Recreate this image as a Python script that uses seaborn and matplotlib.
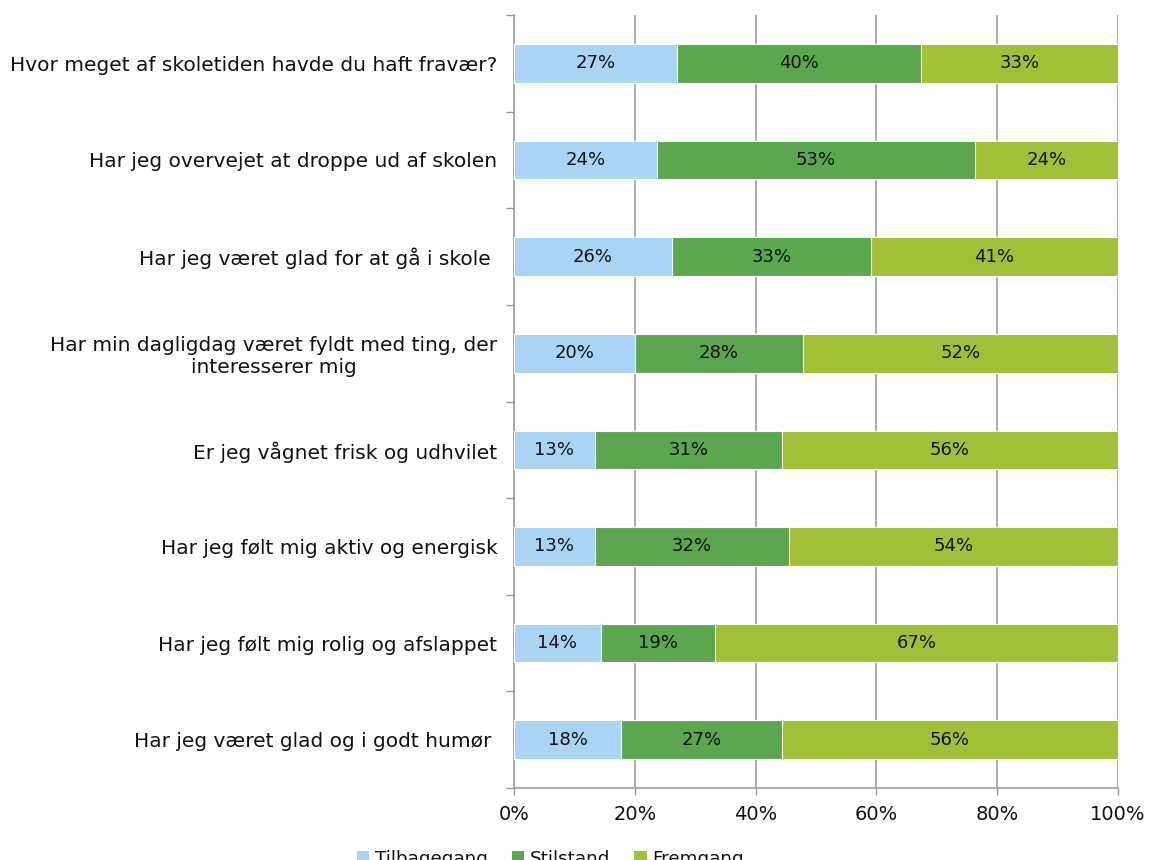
import matplotlib
matplotlib.use("Agg")
import matplotlib.pyplot as plt
import seaborn as sns
import numpy as np
import pandas as pd
from matplotlib.patches import Patch

questions = [
    "Hvor meget af skoletiden havde du haft fravær?",
    "Har jeg overvejet at droppe ud af skolen",
    "Har jeg været glad for at gå i skole ",
    "Har min dagligdag været fyldt med ting, der\ninteresserer mig",
    "Er jeg vågnet frisk og udhvilet",
    "Har jeg følt mig aktiv og energisk",
    "Har jeg følt mig rolig og afslappet",
    "Har jeg været glad og i godt humør ",
]
tilbagegang = [27.0, 23.7, 26.2, 20.0, 13.4, 13.4, 14.4, 17.8]
stilstand = [40.4, 52.6, 32.9, 27.8, 31.0, 32.2, 18.9, 26.6]
fremgang = [32.6, 23.7, 40.9, 52.2, 55.6, 54.4, 66.7, 55.6]

series_names = ["Tilbagegang", "Stilstand", "Fremgang"]
colors = ["#A9D4F4", "#5BA64F", "#A2BF38"]

sns.set_theme(style="white")
plt.rcParams["font.family"] = ["DejaVu Sans"]
plt.rcParams["text.color"] = "#111111"
plt.rcParams["xtick.color"] = "#111111"
plt.rcParams["ytick.color"] = "#111111"

df = pd.DataFrame({"q": questions, "Tilbagegang": tilbagegang,
                   "Stilstand": stilstand, "Fremgang": fremgang})
df["c1"] = df["Tilbagegang"]
df["c2"] = df["c1"] + df["Stilstand"]
df["c3"] = df["c2"] + df["Fremgang"]

fig = plt.figure(figsize=(11.49, 8.60), dpi=100)
ax = fig.add_axes([0.4473, 0.0837, 0.5257, 0.8988])

# stacked bars drawn as overlapping cumulative totals, widest first
for col, color in zip(["c3", "c2", "c1"], colors[::-1]):
    sns.barplot(data=df, x=col, y="q", orient="h", color=color, width=0.4,
                edgecolor="white", linewidth=0.8, saturation=1, ax=ax, zorder=3)

# segment value labels
for i, row in df.iterrows():
    starts = [0, row["c1"], row["c2"]]
    vals = [row["Tilbagegang"], row["Stilstand"], row["Fremgang"]]
    for s, v in zip(starts, vals):
        ax.text(s + v / 2, i, f"{v:.0f}%", ha="center", va="center",
                fontsize=13, color="#111111", zorder=5)

ax.set_xlim(0, 100)
ax.set_ylim(len(questions) - 0.5, -0.5)
ax.set_xticks(np.arange(0, 101, 20))
ax.set_xticklabels([f"{t}%" for t in range(0, 101, 20)], fontsize=14)
ax.set_xlabel("")
ax.set_ylabel("")
ax.tick_params(axis="x", which="major", length=5, width=1, color="#999999",
               direction="out", pad=7, bottom=True)
ax.tick_params(axis="y", which="major", length=0, pad=12, labelsize=14.5)
for lbl in ax.get_yticklabels():
    lbl.set_multialignment("center")
ax.set_yticks(np.arange(-0.5, len(questions), 1.0), minor=True)
ax.tick_params(axis="y", which="minor", length=6, width=1, color="#999999",
               direction="out", left=True)

ax.xaxis.grid(True, color="#A0A0A0", linewidth=1.2, zorder=0)
ax.yaxis.grid(False)
ax.set_axisbelow(True)
for side in ["top", "right"]:
    ax.spines[side].set_visible(False)
for side in ["left", "bottom"]:
    ax.spines[side].set_color("#A0A0A0")
    ax.spines[side].set_linewidth(1.2)

handles = [Patch(facecolor=c, edgecolor="none") for c in colors]
fig.legend(handles, series_names, loc="upper center",
           bbox_to_anchor=(0.479, 1 - 833 / 860), ncol=3, frameon=False,
           fontsize=13.2, handlelength=0.7, handleheight=0.7,
           handletextpad=0.3, columnspacing=1.3,
           bbox_transform=fig.transFigure)

fig.savefig("out.png", dpi=100)
